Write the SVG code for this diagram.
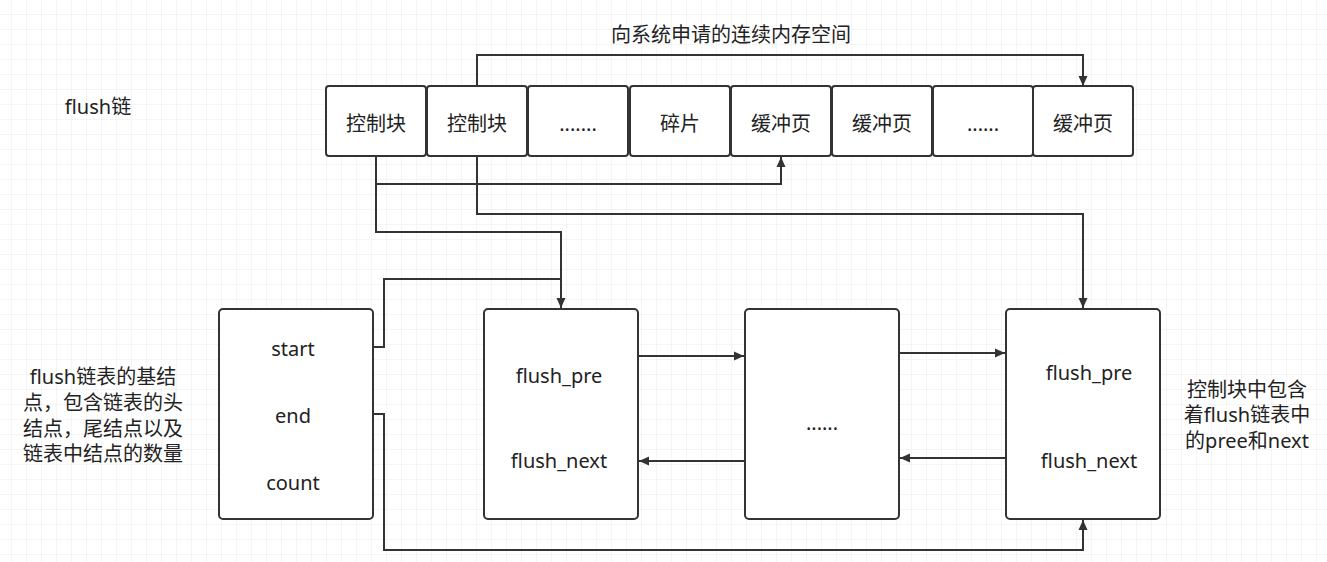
<svg xmlns="http://www.w3.org/2000/svg" width="1327" height="562" viewBox="0 0 1327 562">
<defs>
<pattern id="grid" x="11" y="14" width="15" height="15" patternUnits="userSpaceOnUse">
<path d="M0,0 H15 M0,0 V15" fill="none" stroke="#ebebeb" stroke-width="1"/>
</pattern>
<marker id="arr" viewBox="0 0 10 10" refX="10" refY="5" markerWidth="10" markerHeight="10" markerUnits="userSpaceOnUse" orient="auto">
<path d="M0,0.5 L10,5 L0,9.5 Z" fill="#333"/>
</marker>
<style>
.box{fill:#fff;stroke:#333;stroke-width:2}
.t{font-family:"Noto Sans","Noto Sans CJK SC",sans-serif;font-size:20px;fill:#222;text-anchor:middle;dominant-baseline:central}
.c{font-size:20px}
.ln{fill:none;stroke:#333;stroke-width:2}
</style>
</defs>
<rect x="0" y="0" width="1327" height="562" fill="#fff"/>
<rect x="0" y="0" width="1327" height="562" fill="url(#grid)"/>

<g id="connectors">
<path class="ln" d="M477,86 V55 H1083 V86" marker-end="url(#arr)"/>
<path class="ln" d="M376,156 V184 H781 V157" marker-end="url(#arr)"/>
<path class="ln" d="M376,156 V232 H561 V308" marker-end="url(#arr)"/>
<path class="ln" d="M477,156 V214 H1083 V308" marker-end="url(#arr)"/>
<path class="ln" d="M355,347 H384 V279 H561"/>
<path class="ln" d="M355,414 H384 V550 H1083 V520" marker-end="url(#arr)"/>
<path class="ln" d="M638,356 H744" marker-end="url(#arr)"/>
<path class="ln" d="M745,461 H639" marker-end="url(#arr)"/>
<path class="ln" d="M899,353 H1005" marker-end="url(#arr)"/>
<path class="ln" d="M1006,458 H900" marker-end="url(#arr)"/>
</g>

<g id="title"><text class="t c" x="98" y="106">flush链</text></g>
<g id="label-top"><text class="t c" x="731" y="34">向系统申请的连续内存空间</text></g>

<g id="mem1"><rect class="box" x="326" y="86" width="100" height="70" rx="3"/><text class="t c" x="376" y="123">控制块</text></g>
<g id="mem2"><rect class="box" x="427" y="86" width="100" height="70" rx="3"/><text class="t c" x="477" y="123">控制块</text></g>
<g id="mem3"><rect class="box" x="528" y="86" width="100" height="70" rx="3"/><text class="t c" x="578" y="123">.......</text></g>
<g id="mem4"><rect class="box" x="630" y="86" width="100" height="70" rx="3"/><text class="t c" x="680" y="123">碎片</text></g>
<g id="mem5"><rect class="box" x="731" y="86" width="100" height="70" rx="3"/><text class="t c" x="781" y="123">缓冲页</text></g>
<g id="mem6"><rect class="box" x="832" y="86" width="100" height="70" rx="3"/><text class="t c" x="882" y="123">缓冲页</text></g>
<g id="mem7"><rect class="box" x="933" y="86" width="100" height="70" rx="3"/><text class="t c" x="983" y="123">......</text></g>
<g id="mem8"><rect class="box" x="1033" y="86" width="100" height="70" rx="3"/><text class="t c" x="1083" y="123">缓冲页</text></g>

<g id="base"><rect class="box" x="219" y="309" width="154" height="210" rx="4"/>
<text class="t" x="293" y="348">start</text>
<text class="t" x="293" y="415">end</text>
<text class="t" x="293" y="482">count</text></g>

<g id="nodeB"><rect class="box" x="484" y="309" width="154" height="210" rx="4"/>
<text class="t" x="559" y="375">flush_pre</text>
<text class="t" x="559" y="460">flush_next</text></g>

<g id="nodeC"><rect class="box" x="745" y="309" width="154" height="210" rx="4"/>
<text class="t" x="822" y="422">......</text></g>

<g id="nodeD"><rect class="box" x="1006" y="309" width="154" height="210" rx="4"/>
<text class="t" x="1089" y="372">flush_pre</text>
<text class="t" x="1089" y="460">flush_next</text></g>

<g id="note-left">
<text class="t c" x="103" y="376">flush链表的基结</text>
<text class="t c" x="103" y="402">点，包含链表的头</text>
<text class="t c" x="103" y="428">结点，尾结点以及</text>
<text class="t c" x="103" y="453">链表中结点的数量</text>
</g>
<g id="note-right">
<text class="t c" x="1247" y="389">控制块中包含</text>
<text class="t c" x="1247" y="414">着flush链表中</text>
<text class="t c" x="1247" y="440">的pree和next</text>
</g>
</svg>
